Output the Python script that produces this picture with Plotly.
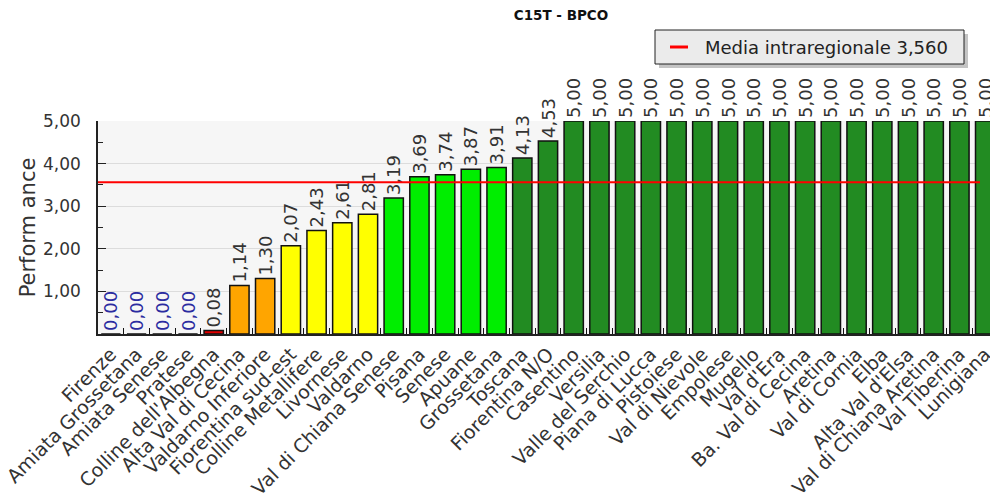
import plotly.graph_objects as go

# dati
zone = ["Firenze", "Amiata Grossetana", "Amiata Senese", "Pratese", "Colline dell'Albegna",
        "Alta Val di Cecina", "Valdarno Inferiore", "Fiorentina sud-est", "Colline Metallifere",
        "Livornese", "Valdarno", "Val di Chiana Senese", "Pisana", "Senese", "Apuane",
        "Grossetana", "Toscana", "Fiorentina N/O", "Casentino", "Versilia", "Valle del Serchio",
        "Piana di Lucca", "Pistoiese", "Val di Nievole", "Empolese", "Mugello", "Val d'Era",
        "Ba. Val di Cecina", "Aretina", "Val di Cornia", "Elba", "Alta Val d'Elsa",
        "Val di Chiana Aretina", "Val Tiberina", "Lunigiana"]
valori = [0.00, 0.00, 0.00, 0.00, 0.08, 1.14, 1.30, 2.07, 2.43, 2.61, 2.81, 3.19, 3.69, 3.74,
          3.87, 3.91, 4.13, 4.53, 5.00, 5.00, 5.00, 5.00, 5.00, 5.00, 5.00, 5.00, 5.00, 5.00,
          5.00, 5.00, 5.00, 5.00, 5.00, 5.00, 5.00]
media = 3.560
y_ticks = [1, 2, 3, 4, 5]

# la pagina ha un margine di 8px: la figura inizia a (8, 8)
OFF = 8
W, H = 998 - OFF, 496 - OFF
# area del grafico in pixel della pagina
X0, X1, Y0, Y1 = 98, 998, 121, 334
px = lambda x: (x - X0) / (X1 - X0)
py = lambda y: (Y1 - y) / (Y1 - Y0)


def colore(v):
    if v < 1:
        return "#e00000"
    if v < 2:
        return "#ffa500"
    if v < 3:
        return "#ffff00"
    if v < 4:
        return "#00ee00"
    return "#228b22"


fmt = lambda v, d=2: f"{v:.{d}f}".replace(".", ",")

fig = go.Figure()
fig.add_trace(go.Bar(
    x=zone, y=valori,
    marker=dict(color=[colore(v) for v in valori], line=dict(color="#111111", width=1.5)),
    text=[fmt(v) for v in valori],
    textposition="outside",
    textangle=-90,
    constraintext="none",
    textfont=dict(size=18, family="DejaVu Sans",
                  color=["#2b2ba0" if v == 0 else "#333333" for v in valori]),
    cliponaxis=False,
    showlegend=False,
    hoverinfo="x+y",
))

# linea media
fig.add_shape(type="line", xref="paper", yref="y", x0=0, x1=px(980), y0=media, y1=media,
              line=dict(color="#ff0000", width=2))

# legenda disegnata a mano
fig.add_shape(type="rect", xref="paper", yref="paper",
              x0=px(659), x1=px(968), y0=py(68), y1=py(34),
              fillcolor="#c4c4c4", line=dict(width=0))
fig.add_shape(type="rect", xref="paper", yref="paper",
              x0=px(655), x1=px(964), y0=py(64), y1=py(30),
              fillcolor="#ebebeb", line=dict(color="#222222", width=1))
fig.add_shape(type="line", xref="paper", yref="paper",
              x0=px(670), x1=px(688), y0=py(47), y1=py(47),
              line=dict(color="#ff0000", width=3))
fig.add_annotation(xref="paper", yref="paper", x=px(703), y=py(47),
                   xanchor="left", yanchor="middle", showarrow=False,
                   text=f"Media intraregionale {fmt(media, 3)}",
                   font=dict(size=18, color="#222222"))

fig.update_layout(
    width=W, height=H,
    margin=dict(l=X0 - OFF, r=998 - X1, t=Y0 - OFF, b=496 - Y1, autoexpand=False),
    separators=",.",
    plot_bgcolor="#f6f6f6",
    paper_bgcolor="white",
    font=dict(family="DejaVu Sans", color="#333333"),
    bargap=0.25,
    title=dict(text="<b>C15T - BPCO</b>", x=(561 - OFF) / W, xanchor="center",
               y=1 - (15 - OFF) / H, yanchor="middle", font=dict(size=13.5, color="#111111")),
    showlegend=False,
)
fig.update_xaxes(
    type="category", tickangle=-45, tickfont=dict(size=19, color="#333333"),
    showline=True, linecolor="#222222", linewidth=1.5,
    ticks="inside", tickson="boundaries", ticklen=6, tickcolor="#111111",
    showgrid=False, range=[-0.5, len(zone) - 0.5], automargin=False,
)
fig.update_yaxes(
    range=[0, 5], tickvals=y_ticks, tickformat=".2f",
    tickfont=dict(size=17, color="#333333"), ticklabelstandoff=12,
    title=dict(text="Perform ance", font=dict(size=21, color="#333333"), standoff=2),
    showline=True, linecolor="#222222", linewidth=1.5,
    ticks="inside", ticklen=8, tickcolor="#222222",
    minor=dict(ticks="inside", dtick=0.5, ticklen=5, tickcolor="#222222", showgrid=False),
    showgrid=True, gridcolor="#dcdcdc", gridwidth=1, zeroline=False, automargin=False,
)

fig.write_html("out.html")
